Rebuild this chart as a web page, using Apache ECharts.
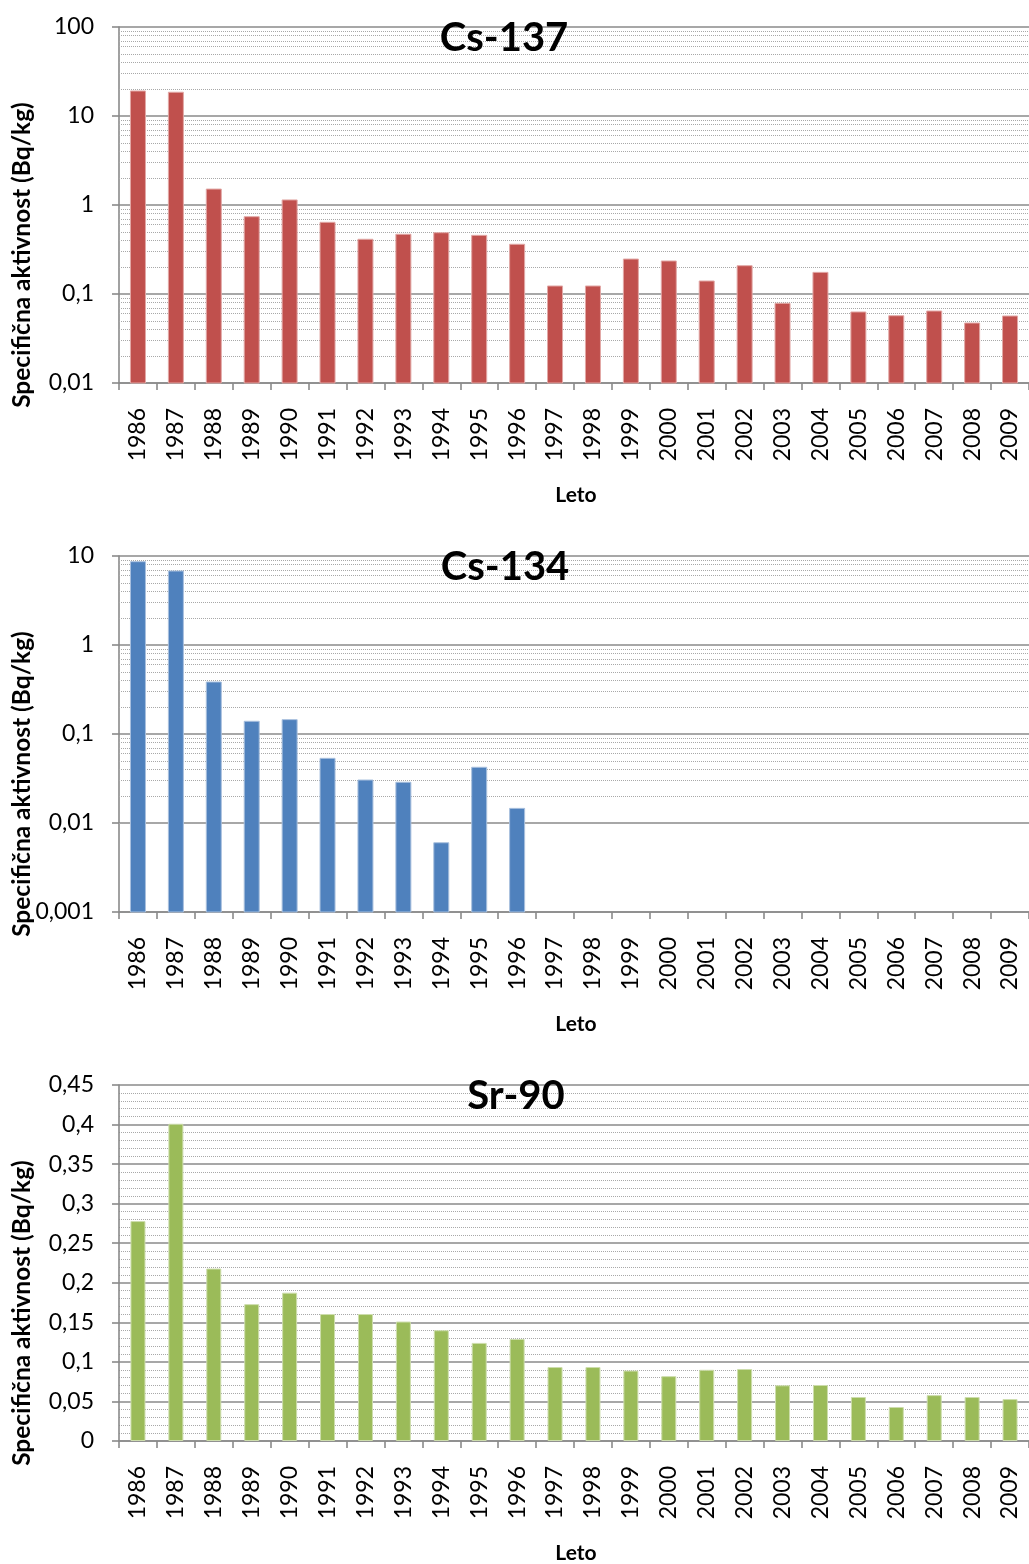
<!DOCTYPE html>
<html>
<head>
<meta charset="utf-8">
<script src="https://cdn.jsdelivr.net/npm/echarts@6/dist/echarts.min.js"></script>
<style>
html,body{margin:0;padding:0;background:#fff;}
#c{width:1029px;height:1564px;}
</style>
</head>
<body>
<div id="c"></div>
<script>
const years = ['1986','1987','1988','1989','1990','1991','1992','1993','1994','1995','1996','1997','1998','1999','2000','2001','2002','2003','2004','2005','2006','2007','2008','2009'];
const cs137 = [19.1, 18.5, 1.51, 0.739, 1.14, 0.639, 0.412, 0.469, 0.488, 0.456, 0.362, 0.123, 0.123, 0.247, 0.235, 0.140, 0.208, 0.0786, 0.175, 0.0628, 0.057, 0.0644, 0.0472, 0.0566];
const cs134 = [8.63, 6.78, 0.384, 0.139, 0.145, 0.0533, 0.0304, 0.0287, 0.0060, 0.0423, 0.0146, null, null, null, null, null, null, null, null, null, null, null, null, null];
const sr90 = [0.278, 0.401, 0.218, 0.173, 0.1875, 0.1605, 0.1605, 0.151, 0.140, 0.124, 0.129, 0.0935, 0.0935, 0.089, 0.082, 0.090, 0.091, 0.0704, 0.0708, 0.0556, 0.043, 0.058, 0.0556, 0.053];
const titles = ['Cs-137', 'Cs-134', 'Sr-90'];
const yName = 'Specifična aktivnost (Bq/kg)';
const xName = 'Leto';
const cs137Range = [0.01, 100];
const cs134Range = [0.001, 10];
const sr90Range = [0, 0.45];
const sr90Step = 0.05;

const GRID_TOPS = [27, 556, 1085];
const GRID_H = 356;
const GRID_LEFT = 119;
const GRID_W = 913;
const AXIS_COL = '#8a8a8a';
const MINOR_COL = '#a8a8a8';
const LABEL_FONT = 'Lato';

function fmt(v) {
  return String(Number(Number(v).toPrecision(6))).replace('.', ',');
}

function minorLogValues(range) {
  const out = [];
  const lo = Math.round(Math.log10(range[0]));
  const hi = Math.round(Math.log10(range[1]));
  for (let e = lo; e < hi; e++) {
    for (let m = 2; m <= 9; m++) out.push({ yAxis: Number((m * Math.pow(10, e)).toPrecision(6)) });
  }
  return out;
}

function xAxisCfg(gi) {
  return {
    type: 'category', gridIndex: gi, data: years,
    axisLine: { show: true, lineStyle: { color: AXIS_COL, width: 1.6 } },
    axisTick: { show: true, length: 7, interval: 0, alignWithLabel: false, lineStyle: { color: AXIS_COL, width: 1.6 } },
    axisLabel: { interval: 0, rotate: 90, margin: 25, fontFamily: LABEL_FONT, fontSize: 23, color: '#000' },
    splitLine: { show: false }
  };
}

function yLogCfg(gi, range) {
  return {
    type: 'log', logBase: 10, gridIndex: gi, min: range[0], max: range[1],
    axisLine: { show: true, lineStyle: { color: AXIS_COL, width: 1.6 } },
    axisTick: { show: true, length: 7, lineStyle: { color: AXIS_COL, width: 1.6 } },
    axisLabel: { margin: 25, fontFamily: LABEL_FONT, fontSize: 23, color: '#000', formatter: fmt },
    splitLine: { show: true, lineStyle: { color: AXIS_COL, width: 1.6 } }
  };
}

function logBarSeries(gi, values, range, fill, edge) {
  return {
    type: 'custom', xAxisIndex: gi, yAxisIndex: gi, z: 3,
    data: values.map((v, i) => [i, v]).filter(d => d[1] != null),
    encode: { x: 0, y: 1 },
    renderItem: function (params, api) {
      const top = api.coord([api.value(0), api.value(1)]);
      const base = api.coord([api.value(0), range[0]]);
      const w = 15;
      return {
        type: 'rect',
        shape: { x: top[0] - w / 2, y: top[1], width: w, height: base[1] - top[1] },
        style: { fill: fill, stroke: edge, lineWidth: 1 }
      };
    }
  };
}

function minorHolder(gi, range) {
  return {
    type: 'line', xAxisIndex: gi, yAxisIndex: gi, z: 1, silent: true,
    data: years.map(() => null), showSymbol: false,
    markLine: {
      z: 1, silent: true, symbol: ['none', 'none'], animation: false,
      label: { show: false },
      lineStyle: { color: MINOR_COL, type: 'dotted', width: 1 },
      emphasis: { disabled: true },
      data: minorLogValues(range)
    }
  };
}

const graphics = [];
GRID_TOPS.forEach((t, gi) => {
  graphics.push({
    type: 'text', x: [504, 505, 516][gi], y: t + 11, z: 100,
    style: { text: titles[gi], font: 'bold 40px Lato', fill: '#000', align: 'center', verticalAlign: 'middle' }
  });
  graphics.push({
    type: 'text', x: 22, y: t + 228, rotation: Math.PI / 2, z: 100,
    style: { text: yName, font: 'bold 24.5px Lato', fill: '#000', align: 'center', verticalAlign: 'middle' }
  });
  graphics.push({
    type: 'text', x: 576, y: t + 468, z: 100,
    style: { text: xName, font: 'bold 21px Lato', fill: '#000', align: 'center', verticalAlign: 'middle' }
  });
});

const option = {
  animation: false,
  backgroundColor: '#fff',
  grid: GRID_TOPS.map(t => ({ left: GRID_LEFT, top: t, width: GRID_W, height: GRID_H, containLabel: false })),
  xAxis: [xAxisCfg(0), xAxisCfg(1), xAxisCfg(2)],
  yAxis: [
    yLogCfg(0, cs137Range),
    yLogCfg(1, cs134Range),
    {
      type: 'value', gridIndex: 2, min: sr90Range[0], max: sr90Range[1], interval: sr90Step,
      axisLine: { show: true, lineStyle: { color: AXIS_COL, width: 1.6 } },
      axisTick: { show: true, length: 7, lineStyle: { color: AXIS_COL, width: 1.6 } },
      axisLabel: { margin: 25, fontFamily: LABEL_FONT, fontSize: 23, color: '#000', formatter: v => String(Number(v.toFixed(2))).replace('.', ',') },
      splitLine: { show: true, lineStyle: { color: AXIS_COL, width: 1.6 } },
      minorTick: { show: false, splitNumber: 5 },
      minorSplitLine: { show: true, lineStyle: { color: MINOR_COL, type: 'dotted', width: 1 } }
    }
  ],
  series: [
    minorHolder(0, cs137Range),
    logBarSeries(0, cs137, cs137Range, '#C0504D', '#E2A8A6'),
    minorHolder(1, cs134Range),
    logBarSeries(1, cs134, cs134Range, '#4F81BD', '#A9C0DE'),
    {
      type: 'bar', xAxisIndex: 2, yAxisIndex: 2, z: 3, barWidth: 15,
      data: sr90,
      itemStyle: { color: '#9BBB59', borderColor: '#CDDDAC', borderWidth: 1 }
    }
  ],
  graphic: graphics
};

const chart = echarts.init(document.getElementById('c'), null, { renderer: 'canvas' });
chart.setOption(option);
</script>
</body>
</html>
